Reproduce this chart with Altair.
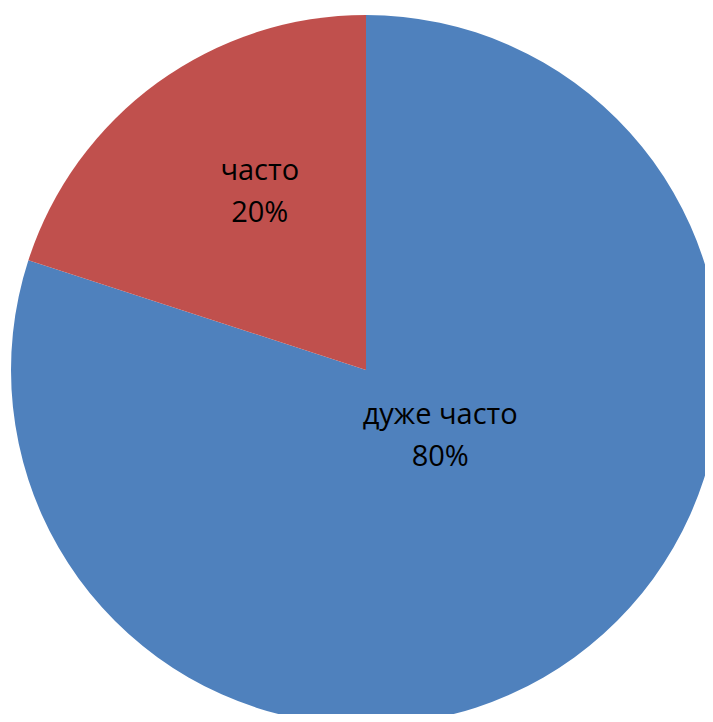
import altair as alt
import pandas as pd

categories = ["дуже часто", "часто"]
values = [80, 20]
colors = ["#4F81BD", "#C0504D"]

df = pd.DataFrame({"category": categories, "value": values, "idx": [0, 1]})

theta_scale = alt.Scale(domain=[0, 100], range=[0, 6.283185307179586])
color_scale = alt.Scale(domain=categories, range=colors)

base = alt.Chart(df)

arcs = base.mark_arc(outerRadius=355, stroke=None).encode(
    theta=alt.Theta("start:Q", scale=theta_scale),
    theta2="end:Q",
    color=alt.Color("category:N", scale=color_scale, legend=None),
    x=alt.value(358),
    y=alt.value(362),
)

text_common = dict(font="Open Sans", fontSize=29, lineBreak="\n", lineHeight=42,
                   color="black", align="center", baseline="middle")

blue_text = base.transform_filter(alt.datum.idx == 0).mark_text(
    radius=99, dx=16, dy=-35, **text_common
).encode(
    theta=alt.Theta("mid:Q", scale=theta_scale),
    text="label:N",
    x=alt.value(358),
    y=alt.value(362),
)

red_text = base.transform_filter(alt.datum.idx == 1).mark_text(
    radius=208, dx=16, dy=-31, **text_common
).encode(
    theta=alt.Theta("mid:Q", scale=theta_scale),
    text="label:N",
    x=alt.value(358),
    y=alt.value(362),
)

chart = alt.layer(arcs, blue_text, red_text).transform_window(
    end="sum(value)", sort=[alt.SortField("idx")]
).transform_calculate(
    start="datum.end - datum.value",
    mid="datum.end - datum.value / 2",
    label="datum.category + '\\n' + datum.value + '%'",
).properties(
    width=697, height=706, padding=0,
    autosize=alt.AutoSizeParams(type="none"),
).configure_view(stroke=None).resolve_scale(theta="shared")

chart.save("out.html", embed_options={"renderer": "svg", "actions": False})
